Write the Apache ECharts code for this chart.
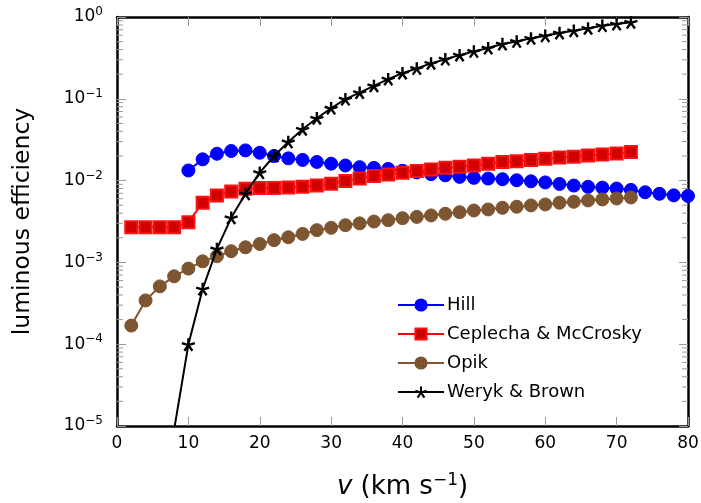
<!DOCTYPE html>
<html>
<head>
<meta charset="utf-8">
<script src="https://cdn.jsdelivr.net/npm/echarts@6/dist/echarts.min.js"></script>
<style>
  html, body { margin: 0; padding: 0; background: #fff; }
  #chart { width: 701px; height: 503px; }
</style>
</head>
<body>
<div id="chart"></div>
<script>
// Velocities (km/s) and luminous efficiency for each model
const hillV = [10,12,14,16,18,20,22,24,26,28,30,32,34,36,38,40,42,44,46,48,50,52,54,56,58,60,62,64,66,68,70,72,74,76,78,80];
const hillTau = [0.0133,0.0182,0.0213,0.0230,0.0234,0.0219,0.0200,0.0187,0.0179,0.0169,0.0161,0.0153,0.0146,0.0143,0.0139,0.0132,0.0126,0.0120,0.0116,0.0111,0.0108,0.0106,0.0104,0.0101,0.0098,0.0095,0.0091,0.0087,0.0084,0.0082,0.0080,0.0077,0.0072,0.0069,0.0066,0.0065];

const ceplechaV = [2,4,6,8,10,12,14,16,18,20,22,24,26,28,30,32,34,36,38,40,42,44,46,48,50,52,54,56,58,60,62,64,66,68,70,72];
const ceplechaTau = [0.00269,0.00269,0.00269,0.00269,0.0031,0.00536,0.00659,0.00738,0.00795,0.0081,0.0081,0.00826,0.0084,0.00873,0.00916,0.00986,0.0106,0.0114,0.0119,0.0125,0.0131,0.0137,0.0144,0.0148,0.0153,0.0161,0.0169,0.0173,0.0179,0.0185,0.0191,0.0196,0.0202,0.0209,0.0215,0.0224];

const opikV = [2,4,6,8,10,12,14,16,18,20,22,24,26,28,30,32,34,36,38,40,42,44,46,48,50,52,54,56,58,60,62,64,66,68,70,72];
const opikTau = [0.000169,0.000343,0.000509,0.000676,0.00084,0.00103,0.00119,0.00137,0.00153,0.00168,0.00187,0.00203,0.00223,0.00248,0.00265,0.00285,0.0030,0.00316,0.00328,0.00347,0.0036,0.00375,0.00393,0.00411,0.00431,0.00444,0.00465,0.00479,0.00497,0.00511,0.00536,0.00551,0.00572,0.00589,0.00605,0.00622];

const werykV = [8,10,12,14,16,18,20,22,24,26,28,30,32,34,36,38,40,42,44,46,48,50,52,54,56,58,60,62,64,66,68,70,72];
const werykTau = [9e-6,9.9e-5,4.73e-4,1.46e-3,3.51e-3,6.9e-3,0.0125,0.020,0.0297,0.0424,0.0578,0.0767,0.0989,0.119,0.144,0.174,0.206,0.235,0.271,0.305,0.342,0.379,0.417,0.467,0.503,0.548,0.590,0.637,0.679,0.726,0.783,0.821,0.861];

const seriesNames = ['Hill', 'Ceplecha & McCrosky', 'Opik', 'Weryk & Brown'];

// Axis ranges and tick settings
const xMin = 0, xMax = 80, xStep = 10;
const yMin = 1e-5, yMax = 1;
// Minor log ticks: 2..9 times each decade
const minorTickValues = [];
for (let e = -5; e < 0; e++) {
  for (let m = 2; m <= 9; m++) minorTickValues.push(m * Math.pow(10, e));
}

const pairs = (xs, ys) => xs.map((x, i) => [x, ys[i]]);

const FONT = 'DejaVu Sans';
const TICK_GRAY = '#9a9a9a';

// Dotted fill for the Opik markers
function dotPattern() {
  const c = document.createElement('canvas');
  c.width = 4; c.height = 4;
  const g = c.getContext('2d');
  g.fillStyle = '#7d5530';
  g.fillRect(0, 0, 4, 4);
  g.fillStyle = '#5e3c1c';
  g.fillRect(1, 1, 1, 1);
  return c;
}

const starPath = 'path://M0,0L0,-1M0,0L0.951,-0.309M0,0L0.588,0.809M0,0L-0.588,0.809M0,0L-0.951,-0.309';

const supLabel = v => {
  const e = Math.round(Math.log10(v));
  const s = e < 0 ? '\u2212' + (-e) : String(e);
  return '10{sup|' + s + '}';
};

const frameLine = { show: true, onZero: false, lineStyle: { color: '#000', width: 2.5 } };
const grayTick = { show: true, inside: true, length: 9, lineStyle: { color: TICK_GRAY, width: 1 } };

const chart = echarts.init(document.getElementById('chart'), null, { renderer: 'canvas' });

const option = {
  backgroundColor: '#ffffff',
  animation: false,
  textStyle: { fontFamily: FONT },
  grid: { left: 117, right: 13, top: 17, bottom: 77, containLabel: false, outerBoundsMode: 'none' },
  legend: {
    data: seriesNames,
    orient: 'vertical',
    left: 392, top: 291,
    itemWidth: 46, itemHeight: 14, itemGap: 11,
    textStyle: { fontFamily: FONT, fontSize: 18, color: '#000', padding: [0, 0, 0, -2] },
    backgroundColor: 'transparent'
  },
  xAxis: [{
    type: 'value', min: xMin, max: xMax, interval: xStep,
    position: 'bottom',
    axisLine: frameLine,
    axisTick: grayTick,
    axisLabel: { fontFamily: FONT, fontSize: 17, color: '#000', margin: 9 },
    splitLine: { show: false },
    name: '{it|v} (km s{sup|\u22121})',
    nameLocation: 'middle', nameGap: 46,
    nameTextStyle: {
      fontFamily: FONT, fontSize: 26, color: '#000',
      rich: {
        it: { fontFamily: FONT, fontSize: 26, fontStyle: 'italic', color: '#000' },
        sup: { fontFamily: FONT, fontSize: 17, color: '#000', padding: [0, 0, 13, 0] }
      }
    }
  }, {
    type: 'value', min: xMin, max: xMax, interval: xStep,
    position: 'top',
    axisLine: frameLine,
    axisTick: grayTick,
    axisLabel: { show: false },
    splitLine: { show: false }
  }],
  yAxis: [{
    type: 'log', logBase: 10, min: yMin, max: yMax,
    position: 'left',
    axisLine: frameLine,
    axisTick: grayTick,
    axisLabel: {
      fontFamily: FONT, fontSize: 17, color: '#000', margin: 14,
      formatter: supLabel,
      rich: {
        sup: { fontFamily: FONT, fontSize: 12, color: '#000', padding: [0, 0, 10, 0] }
      }
    },
    splitLine: { show: false },
    name: 'luminous efficiency',
    nameLocation: 'middle', nameGap: 82, nameRotate: 90,
    nameTextStyle: { fontFamily: FONT, fontSize: 23.5, color: '#000' }
  }, {
    type: 'log', logBase: 10, min: yMin, max: yMax,
    position: 'right',
    axisLine: frameLine,
    axisTick: grayTick,
    axisLabel: { show: false },
    splitLine: { show: false }
  }],
  series: [
    {
      // minor log ticks on left and right frame
      type: 'custom',
      name: 'minorTicks',
      xAxisIndex: 0, yAxisIndex: 0,
      silent: true,
      clip: false,
      data: minorTickValues.map(v => [xMin, v]),
      renderItem: (params, api) => {
        const v = api.value(1);
        const left = api.coord([xMin, v]);
        const right = api.coord([xMax, v]);
        const st = { stroke: TICK_GRAY, lineWidth: 1 };
        return {
          type: 'group',
          children: [
            { type: 'line', shape: { x1: left[0], y1: left[1], x2: left[0] + 6, y2: left[1] }, style: st },
            { type: 'line', shape: { x1: right[0] - 6, y1: right[1], x2: right[0], y2: right[1] }, style: st }
          ]
        };
      },
      z: 1
    },
    {
      name: 'Hill', type: 'line',
      data: pairs(hillV, hillTau),
      symbol: 'circle', symbolSize: 13,
      lineStyle: { color: '#0000ff', width: 2 },
      itemStyle: { color: '#0000ff', borderColor: '#0000ff', borderWidth: 1 },
      z: 3
    },
    {
      name: 'Ceplecha & McCrosky', type: 'line',
      data: pairs(ceplechaV, ceplechaTau),
      symbol: 'rect', symbolSize: 12,
      lineStyle: { color: '#ff0000', width: 2 },
      itemStyle: { color: '#d00000', borderColor: '#ff1010', borderWidth: 2 },
      z: 4
    },
    {
      name: 'Opik', type: 'line',
      data: pairs(opikV, opikTau),
      symbol: 'circle', symbolSize: 13,
      lineStyle: { color: '#7d5530', width: 2 },
      itemStyle: { color: { image: dotPattern(), repeat: 'repeat' }, borderColor: '#7d5530', borderWidth: 1 },
      z: 3
    },
    {
      name: 'Weryk & Brown', type: 'line',
      data: pairs(werykV, werykTau),
      symbol: starPath, symbolSize: 13, symbolKeepAspect: true,
      lineStyle: { color: '#000', width: 2 },
      itemStyle: { color: '#000', borderColor: '#000', borderWidth: 2.4 },
      z: 5
    }
  ]
};

chart.setOption(option);
</script>
</body>
</html>
